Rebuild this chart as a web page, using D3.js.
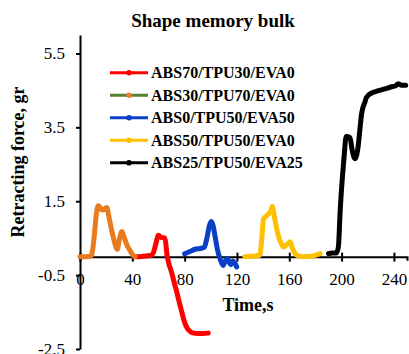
<!DOCTYPE html>
<html>
<head>
<meta charset="utf-8">
<script src="https://cdn.jsdelivr.net/npm/d3@7"></script>
<style>
  body { margin: 0; background: #fff; }
</style>
</head>
<body>
<div class="chart"></div>
<script>
let FRAME_WIDTH = 409;
let FRAME_HEIGHT = 354;
const SERIF = "Liberation Serif, Times New Roman, serif";

// series names and colours
const SERIES_NAMES = ["ABS70/TPU30/EVA0", "ABS30/TPU70/EVA0", "ABS0/TPU50/EVA50",
                      "ABS50/TPU50/EVA0", "ABS25/TPU50/EVA25"];
const LINE_COLORS = ["#ff0000", "#e87b1e", "#0a3fc8", "#ffc000", "#000000"];
const LEGEND_LINE_COLORS = ["#ff0000", "#548235", "#0a3fc8", "#ffc000", "#000000"];
const LEGEND_DOT_COLORS = ["#ff0000", "#ed7d31", "#0a3fc8", "#ffc000", "#000000"];

// time (s) and force (gr) for each sample
const T_RED = [42, 46, 50, 54, 56, 58, 60, 62, 65, 66.5, 68, 70, 72, 74, 76, 78, 80, 82, 84, 87, 90, 94, 98];
const F_RED = [0, 0, 0.02, 0.03, 0.1, 0.35, 0.58, 0.52, 0.5, 0.05, -0.2, -0.42, -0.7, -0.96, -1.25, -1.52, -1.78, -1.94, -2.02, -2.07, -2.08, -2.08, -2.07];

const T_ORANGE = [0, 4, 8, 9, 11, 12.5, 14, 17, 20.5, 22, 24, 26, 28.5, 30, 32, 34, 36, 38, 40, 42];
const F_ORANGE = [0, 0, 0.01, 0.05, 0.6, 1.15, 1.38, 1.26, 1.33, 1.1, 0.75, 0.45, 0.2, 0.45, 0.68, 0.5, 0.3, 0.18, 0.06, 0];

const T_BLUE = [80, 84, 88, 92, 95, 97, 99, 100.6, 102, 103.5, 105, 107, 109.5, 111, 112.6, 114, 115.3, 117, 119.8];
const F_BLUE = [0.08, 0.14, 0.2, 0.22, 0.25, 0.5, 0.85, 0.95, 0.8, 0.5, 0.2, -0.05, -0.24, -0.12, -0.04, -0.15, -0.22, -0.12, -0.28];

const T_YELLOW = [126, 130, 134, 137.5, 139, 140.3, 142.5, 144.5, 146, 147, 149, 151.5, 153.5, 155.5, 158, 160.5, 162.5, 164.5, 167, 170, 174, 178, 183.5];
const F_YELLOW = [0, 0.01, 0.02, 0.04, 0.5, 1.02, 1.1, 1.17, 1.25, 1.36, 1.0, 0.58, 0.38, 0.26, 0.32, 0.4, 0.22, 0.08, 0.02, 0, 0.01, 0.02, 0.08];

const T_BLACK = [190, 193, 196, 197.5, 199, 200.5, 202, 203.5, 206.4, 208, 210.2, 211.5, 212.7, 214, 215.3, 217.8, 219, 223, 227, 231, 235, 238.2, 241, 243.3, 245.8, 249];
const F_BLACK = [0.08, 0.1, 0.1, 0.25, 1.3, 2.1, 2.75, 3.25, 3.22, 2.9, 2.65, 2.75, 3.0, 3.45, 3.87, 4.18, 4.31, 4.43, 4.48, 4.52, 4.56, 4.6, 4.62, 4.68, 4.64, 4.64];

const X_TICKS = [0, 40, 80, 120, 160, 200, 240];
const Y_TICKS = [-2.5, -0.5, 1.5, 3.5, 5.5];

const ALL_T = [T_RED, T_ORANGE, T_BLUE, T_YELLOW, T_BLACK];
const ALL_F = [F_RED, F_ORANGE, F_BLUE, F_YELLOW, F_BLACK];

let FRAME = d3.select(".chart")
              .append("svg")
              .attr("width", FRAME_WIDTH)
              .attr("height", FRAME_HEIGHT);

const X_SCALE = d3.scaleLinear().domain([0, 250]).range([80, 407]);
const Y_SCALE = d3.scaleLinear().domain([-2.5, 6]).range([349, 35]);

// title
FRAME.append("text")
     .attr("x", 213)
     .attr("y", 27)
     .attr("text-anchor", "middle")
     .attr("font-family", SERIF)
     .attr("font-size", 19)
     .attr("font-weight", "bold")
     .text("Shape memory bulk");

// y axis
let yAxis = FRAME.append("g")
     .attr("transform", "translate(" + X_SCALE(0) + ",0)")
     .call(d3.axisLeft(Y_SCALE).tickValues(Y_TICKS).tickSize(4).tickSizeOuter(0)
             .tickPadding(11).tickFormat((d) => d.toFixed(1)))
     .attr("font-family", SERIF)
     .attr("font-size", 17);
yAxis.select(".domain").attr("stroke-width", 2);
yAxis.selectAll(".tick line").attr("stroke-width", 2);

// x axis crossing at zero
let xAxis = FRAME.append("g")
     .attr("transform", "translate(0," + Y_SCALE(0) + ")")
     .call(d3.axisBottom(X_SCALE).tickValues(X_TICKS).tickSizeOuter(0).tickSize(4))
     .attr("font-family", SERIF)
     .attr("font-size", 17);
xAxis.select(".domain").attr("stroke-width", 2);
xAxis.selectAll(".tick line").attr("y1", -4).attr("y2", 5).attr("stroke-width", 2);
xAxis.selectAll("text").attr("y", 28).attr("dy", 0);

// axis titles
FRAME.append("text")
     .attr("x", 248)
     .attr("y", 311)
     .attr("text-anchor", "middle")
     .attr("font-family", SERIF)
     .attr("font-size", 18)
     .attr("font-weight", "bold")
     .text("Time,s");

FRAME.append("text")
     .attr("transform", "translate(24,162) rotate(-90)")
     .attr("text-anchor", "middle")
     .attr("font-family", SERIF)
     .attr("font-size", 18)
     .attr("font-weight", "bold")
     .text("Retracting force, gr");

// curves
const line = d3.line()
               .x((d) => X_SCALE(d[0]))
               .y((d) => Y_SCALE(d[1]))
               .curve(d3.curveMonotoneX);

for (let i = 0; i < ALL_T.length; i++) {
    let pts = ALL_T[i].map((t, j) => [t, ALL_F[i][j]]);
    FRAME.append("path")
         .datum(pts)
         .attr("d", line)
         .attr("fill", "none")
         .attr("stroke", LINE_COLORS[i])
         .attr("stroke-width", 5)
         .attr("stroke-linejoin", "round")
         .attr("stroke-linecap", "round");
}

// legend
for (let i = 0; i < SERIES_NAMES.length; i++) {
    let ly = 72.7 + i * 22.5;
    FRAME.append("line")
         .attr("x1", 110).attr("x2", 148)
         .attr("y1", ly).attr("y2", ly)
         .attr("stroke", LEGEND_LINE_COLORS[i])
         .attr("stroke-width", 3);
    FRAME.append("circle")
         .attr("cx", 129).attr("cy", ly).attr("r", 2.8)
         .attr("fill", LEGEND_DOT_COLORS[i]);
    FRAME.append("text")
         .attr("x", 151)
         .attr("y", ly + 5.5)
         .attr("font-family", SERIF)
         .attr("font-size", 16)
         .attr("font-weight", "bold")
         .text(SERIES_NAMES[i]);
}
</script>
</body>
</html>
